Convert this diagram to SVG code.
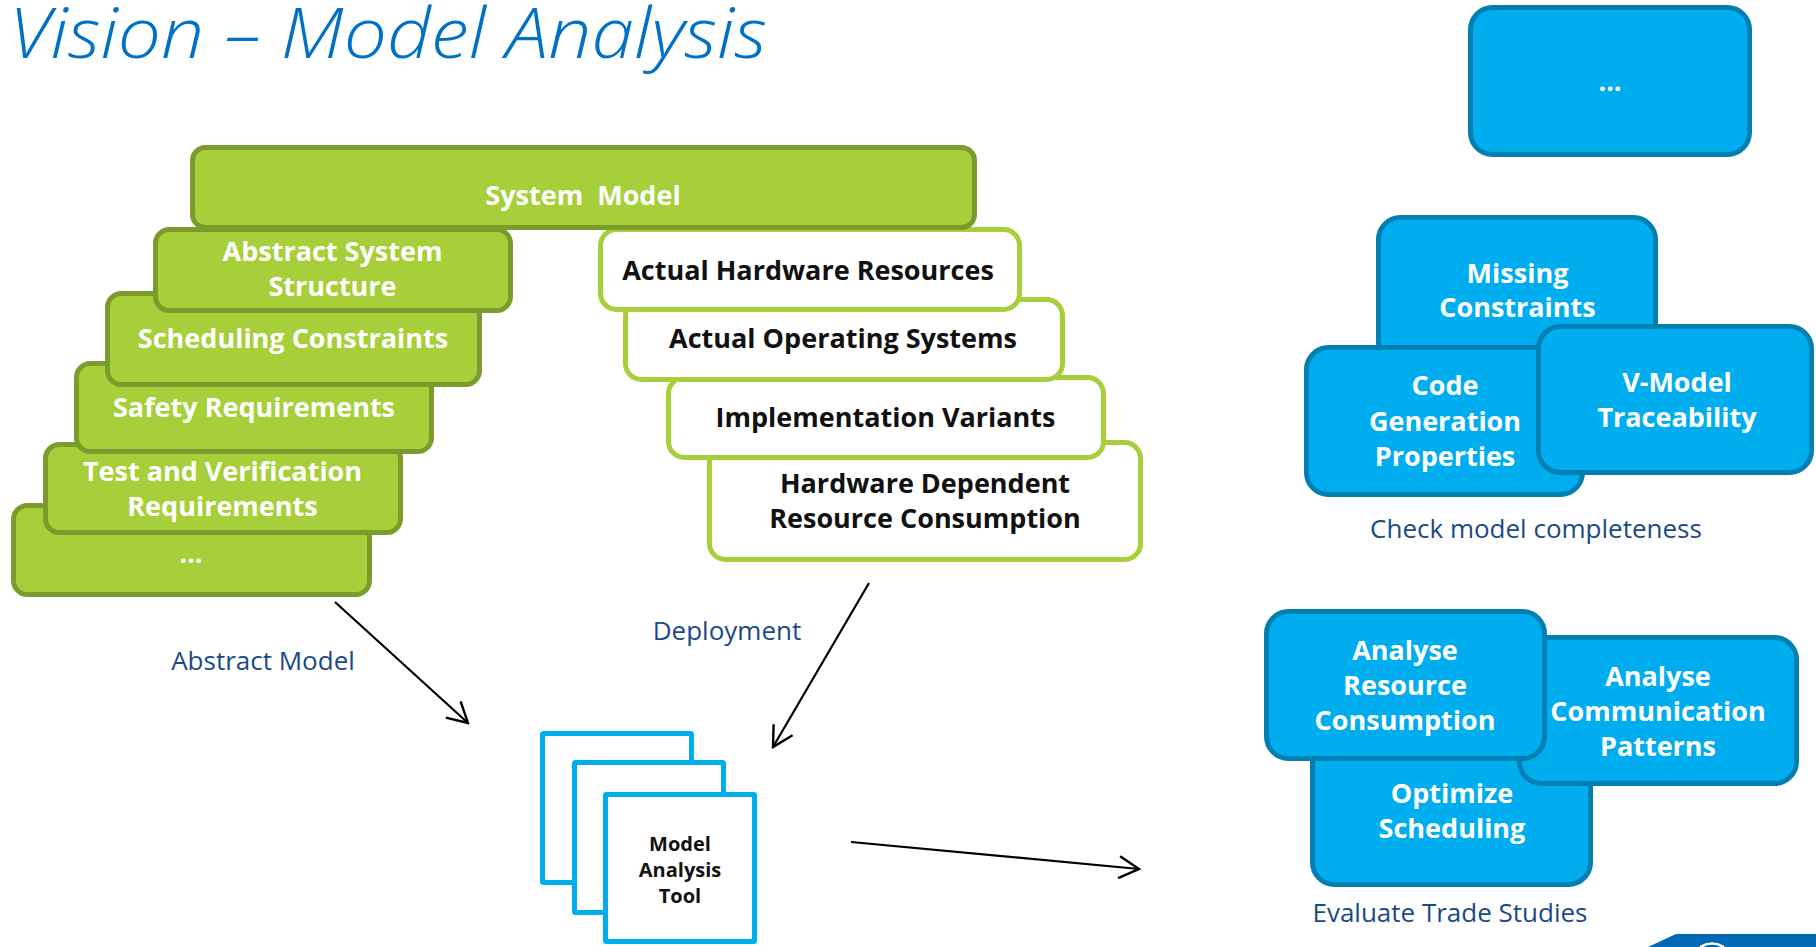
<svg xmlns="http://www.w3.org/2000/svg" width="1816" height="947" viewBox="0 0 1816 947">
  <style>
    .bg { fill: #ffffff; }
    .green { fill: #a7cf3a; stroke: #7b9b2d; stroke-width: 5; }
    .white { fill: #ffffff; stroke: #a7cf3a; stroke-width: 5; }
    .blue { fill: #00aeef; stroke: #0080b2; stroke-width: 5; }
    .tool { fill: #ffffff; stroke: #00aeef; stroke-width: 5; }
    .t { font-family: "Open Sans", "Noto Sans", sans-serif; font-weight: 700; font-size: 27px; text-anchor: middle; }
    .tw { fill: #ffffff; }
    .tb { fill: #111111; }
    .lbl { font-family: "Open Sans", "Noto Sans", sans-serif; font-weight: 400; font-size: 26px; fill: #1a4a86; text-anchor: middle; }
    .title { font-family: "Open Sans", "Noto Sans", sans-serif; font-style: italic; font-weight: 300; font-size: 70px; fill: #0071c5; }
    .conn { stroke: #000000; stroke-width: 2.2; fill: none; }
  </style>
  <defs>
    <marker id="open" viewBox="-22 -12 24 24" refX="0" refY="0" markerWidth="24" markerHeight="24" markerUnits="userSpaceOnUse" orient="auto">
      <path d="M-20,-11 L0,0 L-20,11" fill="none" stroke="#000000" stroke-width="2.4"/>
    </marker>
  </defs>

  <rect class="bg" x="0" y="0" width="1816" height="947"/>

  <text class="title" x="9" y="58" textLength="758" lengthAdjust="spacingAndGlyphs">Vision – Model Analysis</text>

  <!-- abstract model stack (drawn bottom-up) -->
  <g id="node-more-abstract">
    <rect class="green" x="13.5" y="505.5" width="356" height="89" rx="14"/>
    <text class="t tw" x="191" y="563">...</text>
  </g>
  <g id="node-test-verification">
    <rect class="green" x="45.5" y="444.5" width="355" height="88" rx="14"/>
    <text class="t tw" x="222.5" y="481">Test and Verification</text>
    <text class="t tw" x="222.5" y="516">Requirements</text>
  </g>
  <g id="node-safety">
    <rect class="green" x="76.5" y="363.5" width="355" height="88" rx="14"/>
    <text class="t tw" x="254" y="417">Safety Requirements</text>
  </g>
  <g id="node-scheduling">
    <rect class="green" x="107.5" y="293.5" width="372" height="91" rx="14"/>
    <text class="t tw" x="293" y="348">Scheduling Constraints</text>
  </g>
  <g id="node-abstract-structure">
    <rect class="green" x="155.5" y="229.5" width="355" height="81" rx="14"/>
    <text class="t tw" x="332.5" y="261">Abstract System</text>
    <text class="t tw" x="332.5" y="296">Structure</text>
  </g>

  <!-- deployment stack -->
  <g id="node-hw-consumption">
    <rect class="white" x="709.5" y="442.5" width="431" height="117" rx="16"/>
    <text class="t tb" x="925" y="493">Hardware Dependent</text>
    <text class="t tb" x="925" y="528">Resource Consumption</text>
  </g>
  <g id="node-impl-variants">
    <rect class="white" x="668.5" y="377.5" width="435" height="80" rx="16"/>
    <text class="t tb" x="885.5" y="427">Implementation Variants</text>
  </g>
  <g id="node-os">
    <rect class="white" x="625.5" y="299.5" width="437" height="80" rx="16"/>
    <text class="t tb" x="843" y="348">Actual Operating Systems</text>
  </g>
  <g id="node-hw">
    <rect class="white" x="600.5" y="229.5" width="419" height="80" rx="16"/>
    <text class="t tb" x="808" y="280">Actual Hardware Resources</text>
  </g>

  <g id="node-system-model">
    <rect class="green" x="192.5" y="147.5" width="782" height="80" rx="13"/>
    <text class="t tw" x="583" y="205" xml:space="preserve">System  Model</text>
  </g>

  <!-- model analysis tool -->
  <g id="node-tool">
    <rect class="tool" x="542.5" y="733.5" width="149" height="149" rx="1"/>
    <rect class="tool" x="574.5" y="762.5" width="149" height="150" rx="1"/>
    <rect class="tool" x="605.5" y="794.5" width="149" height="147" rx="1"/>
    <text class="t tb" style="font-size:20px" x="680" y="851">Model</text>
    <text class="t tb" style="font-size:20px" x="680" y="877">Analysis</text>
    <text class="t tb" style="font-size:20px" x="680" y="903">Tool</text>
  </g>

  <!-- analysis results -->
  <g id="node-more-results">
    <rect class="blue" x="1470.5" y="7.5" width="279" height="147" rx="22"/>
    <text class="t tw" x="1610" y="91">...</text>
  </g>
  <g id="node-missing-constraints">
    <rect class="blue" x="1378.5" y="217.5" width="277" height="147" rx="22"/>
    <text class="t tw" x="1517.5" y="283">Missing</text>
    <text class="t tw" x="1517.5" y="317">Constraints</text>
  </g>
  <g id="node-code-generation">
    <rect class="blue" x="1306.5" y="347.5" width="276" height="147" rx="22"/>
    <text class="t tw" x="1445" y="395">Code</text>
    <text class="t tw" x="1445" y="431">Generation</text>
    <text class="t tw" x="1445" y="466">Properties</text>
  </g>
  <g id="node-vmodel">
    <rect class="blue" x="1538.5" y="326.5" width="273" height="146" rx="22"/>
    <text class="t tw" x="1677" y="392">V-Model</text>
    <text class="t tw" x="1677" y="427">Traceability</text>
  </g>
  <text class="lbl" x="1536" y="538">Check model completeness</text>

  <g id="node-optimize-scheduling">
    <rect class="blue" x="1312.5" y="737.5" width="278" height="147" rx="22"/>
    <text class="t tw" x="1452" y="803">Optimize</text>
    <text class="t tw" x="1452" y="838">Scheduling</text>
  </g>
  <g id="node-communication">
    <rect class="blue" x="1519.5" y="637.5" width="277" height="146" rx="22"/>
    <text class="t tw" x="1658" y="686">Analyse</text>
    <text class="t tw" x="1658" y="721">Communication</text>
    <text class="t tw" x="1658" y="756">Patterns</text>
  </g>
  <g id="node-resource-consumption">
    <rect class="blue" x="1266.5" y="611.5" width="278" height="147" rx="22"/>
    <text class="t tw" x="1405" y="660">Analyse</text>
    <text class="t tw" x="1405" y="695">Resource</text>
    <text class="t tw" x="1405" y="730">Consumption</text>
  </g>
  <text class="lbl" x="1450" y="922">Evaluate Trade Studies</text>

  <!-- connectors -->
  <g id="connectors">
    <line class="conn" x1="335" y1="602" x2="468" y2="723" marker-end="url(#open)"/>
    <line class="conn" x1="869" y1="583" x2="773" y2="747" marker-end="url(#open)"/>
    <line class="conn" x1="851" y1="842" x2="1139" y2="869" marker-end="url(#open)"/>
    <text class="lbl" x="263" y="670">Abstract Model</text>
    <text class="lbl" x="727" y="640">Deployment</text>
  </g>

  <!-- corner badge -->
  <g id="corner-badge">
    <path d="M1648,947 L1676,934 L1816,934 L1816,947 Z" fill="#0068b5"/>
    <path d="M1700,947 Q1712,940 1724,947" fill="none" stroke="#ffffff" stroke-width="2.5"/>
  </g>
</svg>
